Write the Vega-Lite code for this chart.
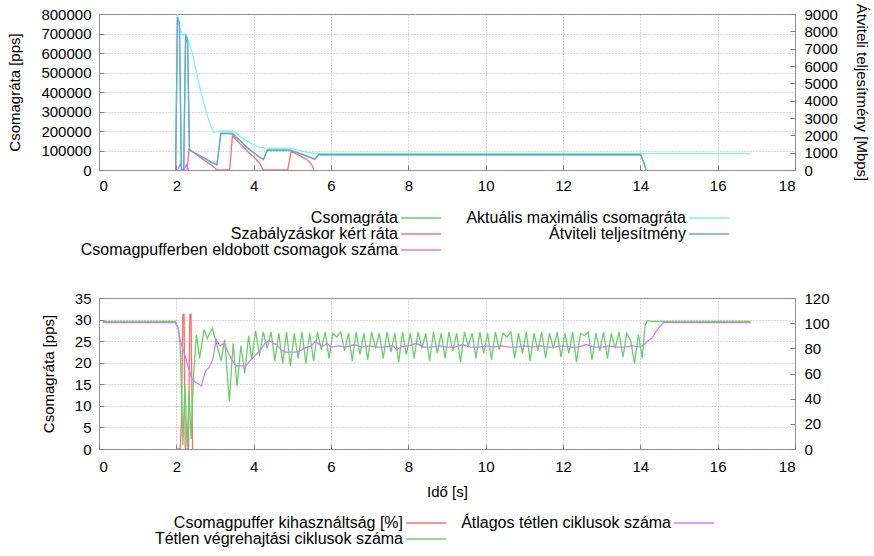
{
  "$schema": "https://vega.github.io/schema/vega-lite/v6.json",
  "background": "white",
  "padding": {"left": 7, "top": 2, "right": 5, "bottom": 0},
  "spacing": 31,
  "config": {
    "font": "Liberation Sans",
    "view": {"stroke": "#7f7f7f", "strokeWidth": 1},
    "axis": {"labelFont": "Liberation Sans", "titleFont": "Liberation Sans", "labelFontSize": 15, "titleFontSize": 15, "titleFontWeight": "normal", "labelColor": "#000000", "titleColor": "#000000", "domain": false, "ticks": true, "tickSize": -5, "tickColor": "#7f7f7f", "gridColor": "#b0b0b0", "gridDash": [1, 2], "gridWidth": 1},
    "legend": {"labelFont": "Liberation Sans", "labelFontSize": 16, "labelColor": "#000000", "orient": "none", "symbolType": "M-4,0H4", "symbolSize": 100, "symbolStrokeWidth": 1.5, "labelAlign": "right", "labelOffset": -31, "rowPadding": -1, "columns": 2, "labelLimit": 0}
  },
  "resolve": {"scale": {"color": "independent"}, "legend": {"color": "independent"}},
  "datasets": {
    "top": [
      {"t": 1.98, "v": 0, "s": "Csomagráta"},
      {"t": 2.03, "v": 780000, "s": "Csomagráta"},
      {"t": 2.08, "v": 740000, "s": "Csomagráta"},
      {"t": 2.13, "v": 0, "s": "Csomagráta"},
      {"t": 2.19, "v": 0, "s": "Csomagráta"},
      {"t": 2.24, "v": 690000, "s": "Csomagráta"},
      {"t": 2.29, "v": 650000, "s": "Csomagráta"},
      {"t": 2.34, "v": 102000, "s": "Csomagráta"},
      {"t": 2.4, "v": 95000, "s": "Csomagráta"},
      {"t": 2.5, "v": 84000, "s": "Csomagráta"},
      {"t": 2.6, "v": 73000, "s": "Csomagráta"},
      {"t": 2.7, "v": 62000, "s": "Csomagráta"},
      {"t": 2.8, "v": 51000, "s": "Csomagráta"},
      {"t": 2.9, "v": 40000, "s": "Csomagráta"},
      {"t": 3.0, "v": 30000, "s": "Csomagráta"},
      {"t": 3.05, "v": 26000, "s": "Csomagráta"},
      {"t": 3.15, "v": 185000, "s": "Csomagráta"},
      {"t": 3.3, "v": 186000, "s": "Csomagráta"},
      {"t": 3.45, "v": 184000, "s": "Csomagráta"},
      {"t": 3.55, "v": 166000, "s": "Csomagráta"},
      {"t": 3.65, "v": 148000, "s": "Csomagráta"},
      {"t": 3.75, "v": 130000, "s": "Csomagráta"},
      {"t": 3.85, "v": 112000, "s": "Csomagráta"},
      {"t": 3.95, "v": 96000, "s": "Csomagráta"},
      {"t": 4.05, "v": 80000, "s": "Csomagráta"},
      {"t": 4.15, "v": 65000, "s": "Csomagráta"},
      {"t": 4.25, "v": 52000, "s": "Csomagráta"},
      {"t": 4.35, "v": 100000, "s": "Csomagráta"},
      {"t": 4.95, "v": 100000, "s": "Csomagráta"},
      {"t": 5.05, "v": 93000, "s": "Csomagráta"},
      {"t": 5.15, "v": 86000, "s": "Csomagráta"},
      {"t": 5.25, "v": 79000, "s": "Csomagráta"},
      {"t": 5.35, "v": 72000, "s": "Csomagráta"},
      {"t": 5.45, "v": 64000, "s": "Csomagráta"},
      {"t": 5.58, "v": 54000, "s": "Csomagráta"},
      {"t": 5.68, "v": 76000, "s": "Csomagráta"},
      {"t": 14.02, "v": 76000, "s": "Csomagráta"},
      {"t": 14.1, "v": 35000, "s": "Csomagráta"},
      {"t": 14.15, "v": 0, "s": "Csomagráta"},

      {"t": 2.03, "v": 800000, "s": "Aktuális maximális csomagráta"},
      {"t": 2.1, "v": 720000, "s": "Aktuális maximális csomagráta"},
      {"t": 2.17, "v": 690000, "s": "Aktuális maximális csomagráta"},
      {"t": 2.22, "v": 700000, "s": "Aktuális maximális csomagráta"},
      {"t": 2.3, "v": 670000, "s": "Aktuális maximális csomagráta"},
      {"t": 2.4, "v": 610000, "s": "Aktuális maximális csomagráta"},
      {"t": 2.5, "v": 520000, "s": "Aktuális maximális csomagráta"},
      {"t": 2.6, "v": 430000, "s": "Aktuális maximális csomagráta"},
      {"t": 2.7, "v": 350000, "s": "Aktuális maximális csomagráta"},
      {"t": 2.8, "v": 280000, "s": "Aktuális maximális csomagráta"},
      {"t": 2.9, "v": 222000, "s": "Aktuális maximális csomagráta"},
      {"t": 2.97, "v": 192000, "s": "Aktuális maximális csomagráta"},
      {"t": 3.1, "v": 200000, "s": "Aktuális maximális csomagráta"},
      {"t": 3.45, "v": 200000, "s": "Aktuális maximális csomagráta"},
      {"t": 3.55, "v": 188000, "s": "Aktuális maximális csomagráta"},
      {"t": 3.65, "v": 172000, "s": "Aktuális maximális csomagráta"},
      {"t": 3.75, "v": 158000, "s": "Aktuális maximális csomagráta"},
      {"t": 3.85, "v": 146000, "s": "Aktuális maximális csomagráta"},
      {"t": 3.95, "v": 135000, "s": "Aktuális maximális csomagráta"},
      {"t": 4.05, "v": 125000, "s": "Aktuális maximális csomagráta"},
      {"t": 4.15, "v": 117000, "s": "Aktuális maximális csomagráta"},
      {"t": 4.3, "v": 112000, "s": "Aktuális maximális csomagráta"},
      {"t": 4.95, "v": 112000, "s": "Aktuális maximális csomagráta"},
      {"t": 5.1, "v": 104000, "s": "Aktuális maximális csomagráta"},
      {"t": 5.25, "v": 97000, "s": "Aktuális maximális csomagráta"},
      {"t": 5.4, "v": 90000, "s": "Aktuális maximális csomagráta"},
      {"t": 5.55, "v": 86000, "s": "Aktuális maximális csomagráta"},
      {"t": 5.68, "v": 84000, "s": "Aktuális maximális csomagráta"},
      {"t": 16.85, "v": 84000, "s": "Aktuális maximális csomagráta"},

      {"t": 2.28, "v": 0, "s": "Szabályzáskor kért ráta"},
      {"t": 2.33, "v": 108000, "s": "Szabályzáskor kért ráta"},
      {"t": 2.4, "v": 97000, "s": "Szabályzáskor kért ráta"},
      {"t": 2.5, "v": 82000, "s": "Szabályzáskor kért ráta"},
      {"t": 2.6, "v": 67000, "s": "Szabályzáskor kért ráta"},
      {"t": 2.7, "v": 53000, "s": "Szabályzáskor kért ráta"},
      {"t": 2.8, "v": 40000, "s": "Szabályzáskor kért ráta"},
      {"t": 2.9, "v": 26000, "s": "Szabályzáskor kért ráta"},
      {"t": 3.0, "v": 10000, "s": "Szabályzáskor kért ráta"},
      {"t": 3.04, "v": 0, "s": "Szabályzáskor kért ráta"},
      {"t": 3.38, "v": 0, "s": "Szabályzáskor kért ráta"},
      {"t": 3.45, "v": 176000, "s": "Szabályzáskor kért ráta"},
      {"t": 3.55, "v": 155000, "s": "Szabályzáskor kért ráta"},
      {"t": 3.65, "v": 134000, "s": "Szabályzáskor kért ráta"},
      {"t": 3.75, "v": 114000, "s": "Szabályzáskor kért ráta"},
      {"t": 3.85, "v": 94000, "s": "Szabályzáskor kért ráta"},
      {"t": 3.95, "v": 76000, "s": "Szabályzáskor kért ráta"},
      {"t": 4.05, "v": 58000, "s": "Szabályzáskor kért ráta"},
      {"t": 4.15, "v": 36000, "s": "Szabályzáskor kért ráta"},
      {"t": 4.25, "v": 0, "s": "Szabályzáskor kért ráta"},
      {"t": 4.88, "v": 0, "s": "Szabályzáskor kért ráta"},
      {"t": 4.97, "v": 97000, "s": "Szabályzáskor kért ráta"},
      {"t": 5.1, "v": 83000, "s": "Szabályzáskor kért ráta"},
      {"t": 5.2, "v": 73000, "s": "Szabályzáskor kért ráta"},
      {"t": 5.3, "v": 62000, "s": "Szabályzáskor kért ráta"},
      {"t": 5.4, "v": 50000, "s": "Szabályzáskor kért ráta"},
      {"t": 5.5, "v": 28000, "s": "Szabályzáskor kért ráta"},
      {"t": 5.56, "v": 0, "s": "Szabályzáskor kért ráta"},

      {"t": 2.03, "v": 0, "s": "Csomagpufferben eldobott csomagok száma"},
      {"t": 2.1, "v": 30000, "s": "Csomagpufferben eldobott csomagok száma"},
      {"t": 2.16, "v": 0, "s": "Csomagpufferben eldobott csomagok száma"},
      {"t": 2.2, "v": 0, "s": "Csomagpufferben eldobott csomagok száma"},
      {"t": 2.26, "v": 28000, "s": "Csomagpufferben eldobott csomagok száma"},
      {"t": 2.32, "v": 0, "s": "Csomagpufferben eldobott csomagok száma"},

      {"t": 1.98, "v": 0, "s": "Átviteli teljesítmény"},
      {"t": 2.03, "v": 8800, "s": "Átviteli teljesítmény"},
      {"t": 2.08, "v": 8500, "s": "Átviteli teljesítmény"},
      {"t": 2.13, "v": 0, "s": "Átviteli teljesítmény"},
      {"t": 2.19, "v": 0, "s": "Átviteli teljesítmény"},
      {"t": 2.24, "v": 7800, "s": "Átviteli teljesítmény"},
      {"t": 2.29, "v": 7500, "s": "Átviteli teljesítmény"},
      {"t": 2.34, "v": 1160, "s": "Átviteli teljesítmény"},
      {"t": 2.4, "v": 1090, "s": "Átviteli teljesítmény"},
      {"t": 2.5, "v": 960, "s": "Átviteli teljesítmény"},
      {"t": 2.6, "v": 830, "s": "Átviteli teljesítmény"},
      {"t": 2.7, "v": 710, "s": "Átviteli teljesítmény"},
      {"t": 2.8, "v": 590, "s": "Átviteli teljesítmény"},
      {"t": 2.9, "v": 470, "s": "Átviteli teljesítmény"},
      {"t": 3.0, "v": 350, "s": "Átviteli teljesítmény"},
      {"t": 3.05, "v": 300, "s": "Átviteli teljesítmény"},
      {"t": 3.15, "v": 2130, "s": "Átviteli teljesítmény"},
      {"t": 3.45, "v": 2130, "s": "Átviteli teljesítmény"},
      {"t": 3.55, "v": 1900, "s": "Átviteli teljesítmény"},
      {"t": 3.65, "v": 1690, "s": "Átviteli teljesítmény"},
      {"t": 3.75, "v": 1480, "s": "Átviteli teljesítmény"},
      {"t": 3.85, "v": 1280, "s": "Átviteli teljesítmény"},
      {"t": 3.95, "v": 1100, "s": "Átviteli teljesítmény"},
      {"t": 4.05, "v": 920, "s": "Átviteli teljesítmény"},
      {"t": 4.15, "v": 750, "s": "Átviteli teljesítmény"},
      {"t": 4.25, "v": 610, "s": "Átviteli teljesítmény"},
      {"t": 4.35, "v": 1160, "s": "Átviteli teljesítmény"},
      {"t": 4.95, "v": 1160, "s": "Átviteli teljesítmény"},
      {"t": 5.05, "v": 1070, "s": "Átviteli teljesítmény"},
      {"t": 5.15, "v": 990, "s": "Átviteli teljesítmény"},
      {"t": 5.25, "v": 910, "s": "Átviteli teljesítmény"},
      {"t": 5.35, "v": 830, "s": "Átviteli teljesítmény"},
      {"t": 5.45, "v": 740, "s": "Átviteli teljesítmény"},
      {"t": 5.58, "v": 630, "s": "Átviteli teljesítmény"},
      {"t": 5.68, "v": 900, "s": "Átviteli teljesítmény"},
      {"t": 14.0, "v": 900, "s": "Átviteli teljesítmény"},
      {"t": 14.08, "v": 450, "s": "Átviteli teljesítmény"},
      {"t": 14.15, "v": 0, "s": "Átviteli teljesítmény"}
    ],
    "botLeft": [
      {"t": 2.0, "v": 0, "s": "Csomagpuffer kihasználtság [%]"},
      {"t": 2.1, "v": 0, "s": "Csomagpuffer kihasználtság [%]"},
      {"t": 2.13, "v": 6, "s": "Csomagpuffer kihasználtság [%]"},
      {"t": 2.17, "v": 31.2, "s": "Csomagpuffer kihasználtság [%]"},
      {"t": 2.2, "v": 31.2, "s": "Csomagpuffer kihasználtság [%]"},
      {"t": 2.23, "v": 0, "s": "Csomagpuffer kihasználtság [%]"},
      {"t": 2.31, "v": 0, "s": "Csomagpuffer kihasználtság [%]"},
      {"t": 2.35, "v": 31.2, "s": "Csomagpuffer kihasználtság [%]"},
      {"t": 2.38, "v": 31.2, "s": "Csomagpuffer kihasználtság [%]"},
      {"t": 2.42, "v": 0, "s": "Csomagpuffer kihasználtság [%]"}
    ],
    "botRight": [
      {"t": 0.1, "v": 101.5, "s": "Tétlen végrehajtási ciklusok száma"},
      {"t": 0.5, "v": 101.5, "s": "Tétlen végrehajtási ciklusok száma"},
      {"t": 1.0, "v": 101.5, "s": "Tétlen végrehajtási ciklusok száma"},
      {"t": 1.5, "v": 101.5, "s": "Tétlen végrehajtási ciklusok száma"},
      {"t": 1.97, "v": 101.5, "s": "Tétlen végrehajtási ciklusok száma"},
      {"t": 2.05, "v": 96, "s": "Tétlen végrehajtási ciklusok száma"},
      {"t": 2.1, "v": 82, "s": "Tétlen végrehajtási ciklusok száma"},
      {"t": 2.17, "v": 3, "s": "Tétlen végrehajtási ciklusok száma"},
      {"t": 2.22, "v": 52, "s": "Tétlen végrehajtási ciklusok száma"},
      {"t": 2.28, "v": 1, "s": "Tétlen végrehajtási ciklusok száma"},
      {"t": 2.33, "v": 46, "s": "Tétlen végrehajtási ciklusok száma"},
      {"t": 2.38, "v": 8, "s": "Tétlen végrehajtási ciklusok száma"},
      {"t": 2.45, "v": 60, "s": "Tétlen végrehajtási ciklusok száma"},
      {"t": 2.52, "v": 91, "s": "Tétlen végrehajtási ciklusok száma"},
      {"t": 2.6, "v": 72, "s": "Tétlen végrehajtási ciklusok száma"},
      {"t": 2.72, "v": 95, "s": "Tétlen végrehajtási ciklusok száma"},
      {"t": 2.8, "v": 88, "s": "Tétlen végrehajtási ciklusok száma"},
      {"t": 2.93, "v": 96, "s": "Tétlen végrehajtási ciklusok száma"},
      {"t": 3.0, "v": 88, "s": "Tétlen végrehajtási ciklusok száma"},
      {"t": 3.16, "v": 70, "s": "Tétlen végrehajtási ciklusok száma"},
      {"t": 3.25, "v": 87, "s": "Tétlen végrehajtási ciklusok száma"},
      {"t": 3.37, "v": 38, "s": "Tétlen végrehajtási ciklusok száma"},
      {"t": 3.47, "v": 84, "s": "Tétlen végrehajtási ciklusok száma"},
      {"t": 3.57, "v": 50, "s": "Tétlen végrehajtási ciklusok száma"},
      {"t": 3.67, "v": 82, "s": "Tétlen végrehajtási ciklusok száma"},
      {"t": 3.77, "v": 60, "s": "Tétlen végrehajtási ciklusok száma"},
      {"t": 3.87, "v": 90, "s": "Tétlen végrehajtási ciklusok száma"},
      {"t": 3.95, "v": 71, "s": "Tétlen végrehajtási ciklusok száma"},
      {"t": 4.05, "v": 94, "s": "Tétlen végrehajtási ciklusok száma"},
      {"t": 4.15, "v": 74, "s": "Tétlen végrehajtási ciklusok száma"},
      {"t": 4.25, "v": 93, "s": "Tétlen végrehajtási ciklusok száma"},
      {"t": 4.35, "v": 80, "s": "Tétlen végrehajtási ciklusok száma"},
      {"t": 4.45, "v": 93, "s": "Tétlen végrehajtási ciklusok száma"},
      {"t": 4.55, "v": 70, "s": "Tétlen végrehajtási ciklusok száma"},
      {"t": 4.65, "v": 92, "s": "Tétlen végrehajtási ciklusok száma"},
      {"t": 4.75, "v": 68, "s": "Tétlen végrehajtási ciklusok száma"},
      {"t": 4.85, "v": 93, "s": "Tétlen végrehajtási ciklusok száma"},
      {"t": 4.95, "v": 66, "s": "Tétlen végrehajtási ciklusok száma"},
      {"t": 5.05, "v": 92, "s": "Tétlen végrehajtási ciklusok száma"},
      {"t": 5.15, "v": 72, "s": "Tétlen végrehajtási ciklusok száma"},
      {"t": 5.25, "v": 93, "s": "Tétlen végrehajtási ciklusok száma"},
      {"t": 5.35, "v": 68, "s": "Tétlen végrehajtási ciklusok száma"},
      {"t": 5.45, "v": 92, "s": "Tétlen végrehajtási ciklusok száma"},
      {"t": 5.55, "v": 70, "s": "Tétlen végrehajtási ciklusok száma"},
      {"t": 5.65, "v": 93, "s": "Tétlen végrehajtási ciklusok száma"},
      {"t": 5.75, "v": 79, "s": "Tétlen végrehajtási ciklusok száma"},
      {"t": 5.85, "v": 93, "s": "Tétlen végrehajtási ciklusok száma"},
      {"t": 5.95, "v": 72, "s": "Tétlen végrehajtási ciklusok száma"},
      {"t": 6.05, "v": 92, "s": "Tétlen végrehajtási ciklusok száma"},
      {"t": 6.15, "v": 89, "s": "Tétlen végrehajtási ciklusok száma"},
      {"t": 6.25, "v": 93, "s": "Tétlen végrehajtási ciklusok száma"},
      {"t": 6.35, "v": 78, "s": "Tétlen végrehajtási ciklusok száma"},
      {"t": 6.45, "v": 92, "s": "Tétlen végrehajtási ciklusok száma"},
      {"t": 6.55, "v": 70, "s": "Tétlen végrehajtási ciklusok száma"},
      {"t": 6.65, "v": 93, "s": "Tétlen végrehajtási ciklusok száma"},
      {"t": 6.75, "v": 75, "s": "Tétlen végrehajtási ciklusok száma"},
      {"t": 6.85, "v": 92, "s": "Tétlen végrehajtási ciklusok száma"},
      {"t": 6.95, "v": 71, "s": "Tétlen végrehajtási ciklusok száma"},
      {"t": 7.05, "v": 93, "s": "Tétlen végrehajtási ciklusok száma"},
      {"t": 7.15, "v": 80, "s": "Tétlen végrehajtási ciklusok száma"},
      {"t": 7.25, "v": 92, "s": "Tétlen végrehajtási ciklusok száma"},
      {"t": 7.35, "v": 72, "s": "Tétlen végrehajtási ciklusok száma"},
      {"t": 7.45, "v": 93, "s": "Tétlen végrehajtási ciklusok száma"},
      {"t": 7.55, "v": 77, "s": "Tétlen végrehajtási ciklusok száma"},
      {"t": 7.65, "v": 92, "s": "Tétlen végrehajtási ciklusok száma"},
      {"t": 7.75, "v": 69, "s": "Tétlen végrehajtási ciklusok száma"},
      {"t": 7.85, "v": 93, "s": "Tétlen végrehajtási ciklusok száma"},
      {"t": 7.95, "v": 75, "s": "Tétlen végrehajtási ciklusok száma"},
      {"t": 8.05, "v": 92, "s": "Tétlen végrehajtási ciklusok száma"},
      {"t": 8.15, "v": 72, "s": "Tétlen végrehajtási ciklusok száma"},
      {"t": 8.25, "v": 93, "s": "Tétlen végrehajtási ciklusok száma"},
      {"t": 8.35, "v": 80, "s": "Tétlen végrehajtási ciklusok száma"},
      {"t": 8.45, "v": 92, "s": "Tétlen végrehajtási ciklusok száma"},
      {"t": 8.55, "v": 70, "s": "Tétlen végrehajtási ciklusok száma"},
      {"t": 8.65, "v": 93, "s": "Tétlen végrehajtási ciklusok száma"},
      {"t": 8.75, "v": 76, "s": "Tétlen végrehajtási ciklusok száma"},
      {"t": 8.85, "v": 92, "s": "Tétlen végrehajtási ciklusok száma"},
      {"t": 8.95, "v": 72, "s": "Tétlen végrehajtási ciklusok száma"},
      {"t": 9.05, "v": 93, "s": "Tétlen végrehajtási ciklusok száma"},
      {"t": 9.15, "v": 78, "s": "Tétlen végrehajtási ciklusok száma"},
      {"t": 9.25, "v": 92, "s": "Tétlen végrehajtási ciklusok száma"},
      {"t": 9.35, "v": 69, "s": "Tétlen végrehajtási ciklusok száma"},
      {"t": 9.45, "v": 93, "s": "Tétlen végrehajtási ciklusok száma"},
      {"t": 9.55, "v": 82, "s": "Tétlen végrehajtási ciklusok száma"},
      {"t": 9.65, "v": 92, "s": "Tétlen végrehajtási ciklusok száma"},
      {"t": 9.75, "v": 72, "s": "Tétlen végrehajtási ciklusok száma"},
      {"t": 9.85, "v": 93, "s": "Tétlen végrehajtási ciklusok száma"},
      {"t": 9.95, "v": 76, "s": "Tétlen végrehajtási ciklusok száma"},
      {"t": 10.05, "v": 92, "s": "Tétlen végrehajtási ciklusok száma"},
      {"t": 10.15, "v": 71, "s": "Tétlen végrehajtási ciklusok száma"},
      {"t": 10.25, "v": 93, "s": "Tétlen végrehajtási ciklusok száma"},
      {"t": 10.35, "v": 79, "s": "Tétlen végrehajtási ciklusok száma"},
      {"t": 10.45, "v": 92, "s": "Tétlen végrehajtási ciklusok száma"},
      {"t": 10.55, "v": 89, "s": "Tétlen végrehajtási ciklusok száma"},
      {"t": 10.65, "v": 93, "s": "Tétlen végrehajtási ciklusok száma"},
      {"t": 10.75, "v": 72, "s": "Tétlen végrehajtási ciklusok száma"},
      {"t": 10.85, "v": 92, "s": "Tétlen végrehajtási ciklusok száma"},
      {"t": 10.95, "v": 76, "s": "Tétlen végrehajtási ciklusok száma"},
      {"t": 11.05, "v": 93, "s": "Tétlen végrehajtási ciklusok száma"},
      {"t": 11.15, "v": 70, "s": "Tétlen végrehajtási ciklusok száma"},
      {"t": 11.25, "v": 92, "s": "Tétlen végrehajtási ciklusok száma"},
      {"t": 11.35, "v": 78, "s": "Tétlen végrehajtási ciklusok száma"},
      {"t": 11.45, "v": 93, "s": "Tétlen végrehajtási ciklusok száma"},
      {"t": 11.55, "v": 72, "s": "Tétlen végrehajtási ciklusok száma"},
      {"t": 11.65, "v": 92, "s": "Tétlen végrehajtási ciklusok száma"},
      {"t": 11.75, "v": 80, "s": "Tétlen végrehajtási ciklusok száma"},
      {"t": 11.85, "v": 93, "s": "Tétlen végrehajtási ciklusok száma"},
      {"t": 11.95, "v": 73, "s": "Tétlen végrehajtási ciklusok száma"},
      {"t": 12.05, "v": 92, "s": "Tétlen végrehajtási ciklusok száma"},
      {"t": 12.15, "v": 76, "s": "Tétlen végrehajtási ciklusok száma"},
      {"t": 12.25, "v": 93, "s": "Tétlen végrehajtási ciklusok száma"},
      {"t": 12.35, "v": 69, "s": "Tétlen végrehajtási ciklusok száma"},
      {"t": 12.45, "v": 92, "s": "Tétlen végrehajtási ciklusok száma"},
      {"t": 12.55, "v": 90, "s": "Tétlen végrehajtási ciklusok száma"},
      {"t": 12.65, "v": 93, "s": "Tétlen végrehajtási ciklusok száma"},
      {"t": 12.75, "v": 71, "s": "Tétlen végrehajtási ciklusok száma"},
      {"t": 12.85, "v": 92, "s": "Tétlen végrehajtási ciklusok száma"},
      {"t": 12.95, "v": 78, "s": "Tétlen végrehajtási ciklusok száma"},
      {"t": 13.05, "v": 93, "s": "Tétlen végrehajtási ciklusok száma"},
      {"t": 13.15, "v": 72, "s": "Tétlen végrehajtási ciklusok száma"},
      {"t": 13.25, "v": 92, "s": "Tétlen végrehajtási ciklusok száma"},
      {"t": 13.35, "v": 80, "s": "Tétlen végrehajtási ciklusok száma"},
      {"t": 13.45, "v": 93, "s": "Tétlen végrehajtási ciklusok száma"},
      {"t": 13.55, "v": 73, "s": "Tétlen végrehajtási ciklusok száma"},
      {"t": 13.65, "v": 92, "s": "Tétlen végrehajtási ciklusok száma"},
      {"t": 13.75, "v": 86, "s": "Tétlen végrehajtási ciklusok száma"},
      {"t": 13.85, "v": 68, "s": "Tétlen végrehajtási ciklusok száma"},
      {"t": 13.95, "v": 91, "s": "Tétlen végrehajtási ciklusok száma"},
      {"t": 14.05, "v": 72, "s": "Tétlen végrehajtási ciklusok száma"},
      {"t": 14.12, "v": 98, "s": "Tétlen végrehajtási ciklusok száma"},
      {"t": 14.18, "v": 102, "s": "Tétlen végrehajtási ciklusok száma"},
      {"t": 14.3, "v": 101.5, "s": "Tétlen végrehajtási ciklusok száma"},
      {"t": 15.0, "v": 101.5, "s": "Tétlen végrehajtási ciklusok száma"},
      {"t": 15.5, "v": 101.5, "s": "Tétlen végrehajtási ciklusok száma"},
      {"t": 16.0, "v": 101.5, "s": "Tétlen végrehajtási ciklusok száma"},
      {"t": 16.5, "v": 101.5, "s": "Tétlen végrehajtási ciklusok száma"},
      {"t": 16.85, "v": 101.5, "s": "Tétlen végrehajtási ciklusok száma"},

      {"t": 0.1, "v": 100.5, "s": "Átlagos tétlen ciklusok száma"},
      {"t": 1.97, "v": 100.5, "s": "Átlagos tétlen ciklusok száma"},
      {"t": 2.05, "v": 96, "s": "Átlagos tétlen ciklusok száma"},
      {"t": 2.1, "v": 86, "s": "Átlagos tétlen ciklusok száma"},
      {"t": 2.2, "v": 77, "s": "Átlagos tétlen ciklusok száma"},
      {"t": 2.3, "v": 66, "s": "Átlagos tétlen ciklusok száma"},
      {"t": 2.4, "v": 56, "s": "Átlagos tétlen ciklusok száma"},
      {"t": 2.5, "v": 53, "s": "Átlagos tétlen ciklusok száma"},
      {"t": 2.65, "v": 50, "s": "Átlagos tétlen ciklusok száma"},
      {"t": 2.75, "v": 62, "s": "Átlagos tétlen ciklusok száma"},
      {"t": 2.85, "v": 65, "s": "Átlagos tétlen ciklusok száma"},
      {"t": 2.95, "v": 72, "s": "Átlagos tétlen ciklusok száma"},
      {"t": 3.03, "v": 87, "s": "Átlagos tétlen ciklusok száma"},
      {"t": 3.13, "v": 82, "s": "Átlagos tétlen ciklusok száma"},
      {"t": 3.24, "v": 84, "s": "Átlagos tétlen ciklusok száma"},
      {"t": 3.35, "v": 76, "s": "Átlagos tétlen ciklusok száma"},
      {"t": 3.45, "v": 70, "s": "Átlagos tétlen ciklusok száma"},
      {"t": 3.55, "v": 66, "s": "Átlagos tétlen ciklusok száma"},
      {"t": 3.65, "v": 66, "s": "Átlagos tétlen ciklusok száma"},
      {"t": 3.8, "v": 66, "s": "Átlagos tétlen ciklusok száma"},
      {"t": 3.9, "v": 70, "s": "Átlagos tétlen ciklusok száma"},
      {"t": 4.0, "v": 73, "s": "Átlagos tétlen ciklusok száma"},
      {"t": 4.1, "v": 76, "s": "Átlagos tétlen ciklusok száma"},
      {"t": 4.2, "v": 80, "s": "Átlagos tétlen ciklusok száma"},
      {"t": 4.3, "v": 84, "s": "Átlagos tétlen ciklusok száma"},
      {"t": 4.4, "v": 86, "s": "Átlagos tétlen ciklusok száma"},
      {"t": 4.5, "v": 84, "s": "Átlagos tétlen ciklusok száma"},
      {"t": 4.6, "v": 83, "s": "Átlagos tétlen ciklusok száma"},
      {"t": 4.7, "v": 79, "s": "Átlagos tétlen ciklusok száma"},
      {"t": 4.8, "v": 77, "s": "Átlagos tétlen ciklusok száma"},
      {"t": 5.1, "v": 77, "s": "Átlagos tétlen ciklusok száma"},
      {"t": 5.2, "v": 78, "s": "Átlagos tétlen ciklusok száma"},
      {"t": 5.3, "v": 80, "s": "Átlagos tétlen ciklusok száma"},
      {"t": 5.4, "v": 81, "s": "Átlagos tétlen ciklusok száma"},
      {"t": 5.5, "v": 82, "s": "Átlagos tétlen ciklusok száma"},
      {"t": 5.6, "v": 86, "s": "Átlagos tétlen ciklusok száma"},
      {"t": 5.7, "v": 83, "s": "Átlagos tétlen ciklusok száma"},
      {"t": 5.8, "v": 82, "s": "Átlagos tétlen ciklusok száma"},
      {"t": 5.9, "v": 84, "s": "Átlagos tétlen ciklusok száma"},
      {"t": 6.0, "v": 81, "s": "Átlagos tétlen ciklusok száma"},
      {"t": 6.2, "v": 82, "s": "Átlagos tétlen ciklusok száma"},
      {"t": 6.4, "v": 81, "s": "Átlagos tétlen ciklusok száma"},
      {"t": 6.6, "v": 83, "s": "Átlagos tétlen ciklusok száma"},
      {"t": 6.8, "v": 81, "s": "Átlagos tétlen ciklusok száma"},
      {"t": 7.0, "v": 82, "s": "Átlagos tétlen ciklusok száma"},
      {"t": 7.2, "v": 81, "s": "Átlagos tétlen ciklusok száma"},
      {"t": 7.4, "v": 81, "s": "Átlagos tétlen ciklusok száma"},
      {"t": 7.6, "v": 82, "s": "Átlagos tétlen ciklusok száma"},
      {"t": 7.7, "v": 79, "s": "Átlagos tétlen ciklusok száma"},
      {"t": 7.8, "v": 81, "s": "Átlagos tétlen ciklusok száma"},
      {"t": 8.0, "v": 82, "s": "Átlagos tétlen ciklusok száma"},
      {"t": 8.2, "v": 84, "s": "Átlagos tétlen ciklusok száma"},
      {"t": 8.4, "v": 81, "s": "Átlagos tétlen ciklusok száma"},
      {"t": 8.6, "v": 81, "s": "Átlagos tétlen ciklusok száma"},
      {"t": 8.8, "v": 82, "s": "Átlagos tétlen ciklusok száma"},
      {"t": 9.0, "v": 81, "s": "Átlagos tétlen ciklusok száma"},
      {"t": 9.2, "v": 81, "s": "Átlagos tétlen ciklusok száma"},
      {"t": 9.4, "v": 83, "s": "Átlagos tétlen ciklusok száma"},
      {"t": 9.6, "v": 81, "s": "Átlagos tétlen ciklusok száma"},
      {"t": 9.8, "v": 81, "s": "Átlagos tétlen ciklusok száma"},
      {"t": 10.0, "v": 82, "s": "Átlagos tétlen ciklusok száma"},
      {"t": 10.2, "v": 81, "s": "Átlagos tétlen ciklusok száma"},
      {"t": 10.4, "v": 82, "s": "Átlagos tétlen ciklusok száma"},
      {"t": 10.6, "v": 81, "s": "Átlagos tétlen ciklusok száma"},
      {"t": 10.8, "v": 81, "s": "Átlagos tétlen ciklusok száma"},
      {"t": 11.0, "v": 82, "s": "Átlagos tétlen ciklusok száma"},
      {"t": 11.2, "v": 81, "s": "Átlagos tétlen ciklusok száma"},
      {"t": 11.4, "v": 82, "s": "Átlagos tétlen ciklusok száma"},
      {"t": 11.6, "v": 81, "s": "Átlagos tétlen ciklusok száma"},
      {"t": 11.8, "v": 81, "s": "Átlagos tétlen ciklusok száma"},
      {"t": 12.0, "v": 82, "s": "Átlagos tétlen ciklusok száma"},
      {"t": 12.2, "v": 81, "s": "Átlagos tétlen ciklusok száma"},
      {"t": 12.4, "v": 81, "s": "Átlagos tétlen ciklusok száma"},
      {"t": 12.6, "v": 83, "s": "Átlagos tétlen ciklusok száma"},
      {"t": 12.8, "v": 81, "s": "Átlagos tétlen ciklusok száma"},
      {"t": 13.0, "v": 81, "s": "Átlagos tétlen ciklusok száma"},
      {"t": 13.2, "v": 82, "s": "Átlagos tétlen ciklusok száma"},
      {"t": 13.4, "v": 81, "s": "Átlagos tétlen ciklusok száma"},
      {"t": 13.6, "v": 81, "s": "Átlagos tétlen ciklusok száma"},
      {"t": 13.8, "v": 82, "s": "Átlagos tétlen ciklusok száma"},
      {"t": 14.0, "v": 81, "s": "Átlagos tétlen ciklusok száma"},
      {"t": 14.1, "v": 83, "s": "Átlagos tétlen ciklusok száma"},
      {"t": 14.2, "v": 86, "s": "Átlagos tétlen ciklusok száma"},
      {"t": 14.3, "v": 88, "s": "Átlagos tétlen ciklusok száma"},
      {"t": 14.4, "v": 93, "s": "Átlagos tétlen ciklusok száma"},
      {"t": 14.5, "v": 97, "s": "Átlagos tétlen ciklusok száma"},
      {"t": 14.6, "v": 100.5, "s": "Átlagos tétlen ciklusok száma"},
      {"t": 16.85, "v": 100.5, "s": "Átlagos tétlen ciklusok száma"}
    ]
  },
  "vconcat": [
    {
      "width": 696,
      "height": 156,
      "resolve": {"scale": {"y": "independent"}},
      "layer": [
        {
          "data": {"name": "top"},
          "transform": [{"filter": "datum.s !== 'Átviteli teljesítmény'"}],
          "mark": {"type": "line", "clip": true, "strokeWidth": 1.3},
          "encoding": {
            "x": {"field": "t", "type": "quantitative", "scale": {"domain": [0, 18], "nice": false},
                  "axis": {"values": [0, 2, 4, 6, 8, 10, 12, 14, 16, 18], "title": null, "labelPadding": 13, "grid": true}},
            "y": {"field": "v", "type": "quantitative", "scale": {"domain": [0, 800000], "nice": false},
                  "axis": {"values": [0, 100000, 200000, 300000, 400000, 500000, 600000, 700000, 800000], "format": "d", "title": "Csomagráta [pps]", "labelPadding": 13, "titlePadding": 18, "grid": true}},
            "color": {"field": "s", "type": "nominal",
                      "scale": {"domain": ["Csomagráta", "Szabályzáskor kért ráta", "Csomagpufferben eldobott csomagok száma", "Aktuális maximális csomagráta", "Átviteli teljesítmény"],
                                "range": ["#66d066", "#ff6e6e", "#d27cff", "#7ff2f2", "#62a6ee"]},
                      "legend": {"title": null, "legendX": 314, "legendY": 196, "columnPadding": 22}}
          }
        },
        {
          "data": {"name": "top"},
          "transform": [{"filter": "datum.s === 'Átviteli teljesítmény'"}],
          "mark": {"type": "line", "clip": true, "strokeWidth": 1.3},
          "encoding": {
            "x": {"field": "t", "type": "quantitative"},
            "y": {"field": "v", "type": "quantitative", "scale": {"domain": [0, 9000], "nice": false},
                  "axis": {"orient": "right", "values": [0, 1000, 2000, 3000, 4000, 5000, 6000, 7000, 8000, 9000], "format": "d", "title": "Átviteli teljesítmény [Mbps]", "labelPadding": 14, "titlePadding": 16, "grid": false}},
            "color": {"field": "s", "type": "nominal"}
          }
        }
      ]
    },
    {
      "width": 696,
      "height": 151,
      "resolve": {"scale": {"y": "independent"}},
      "layer": [
        {
          "data": {"name": "botLeft"},
          "mark": {"type": "line", "clip": true, "strokeWidth": 1.3},
          "encoding": {
            "x": {"field": "t", "type": "quantitative", "scale": {"domain": [0, 18], "nice": false},
                  "axis": {"values": [0, 2, 4, 6, 8, 10, 12, 14, 16, 18], "title": "Idő [s]", "labelPadding": 15, "titlePadding": 10, "grid": true}},
            "y": {"field": "v", "type": "quantitative", "scale": {"domain": [0, 35], "nice": false},
                  "axis": {"values": [0, 5, 10, 15, 20, 25, 30, 35], "title": "Csomagráta [pps]", "labelPadding": 13, "titlePadding": 18, "grid": true}},
            "color": {"field": "s", "type": "nominal",
                      "scale": {"domain": ["Csomagpuffer kihasználtság [%]", "Tétlen végrehajtási ciklusok száma", "Átlagos tétlen ciklusok száma"],
                                "range": ["#ff6e6e", "#66d066", "#d27cff"]},
                      "legend": {"title": null, "legendX": 319, "legendY": 217, "columnPadding": 12}}
          }
        },
        {
          "data": {"name": "botRight"},
          "mark": {"type": "line", "clip": true, "strokeWidth": 1.3},
          "encoding": {
            "x": {"field": "t", "type": "quantitative"},
            "y": {"field": "v", "type": "quantitative", "scale": {"domain": [0, 120], "nice": false},
                  "axis": {"orient": "right", "values": [0, 20, 40, 60, 80, 100, 120], "title": null, "labelPadding": 14, "grid": false}},
            "color": {"field": "s", "type": "nominal"}
          }
        }
      ]
    }
  ]
}
